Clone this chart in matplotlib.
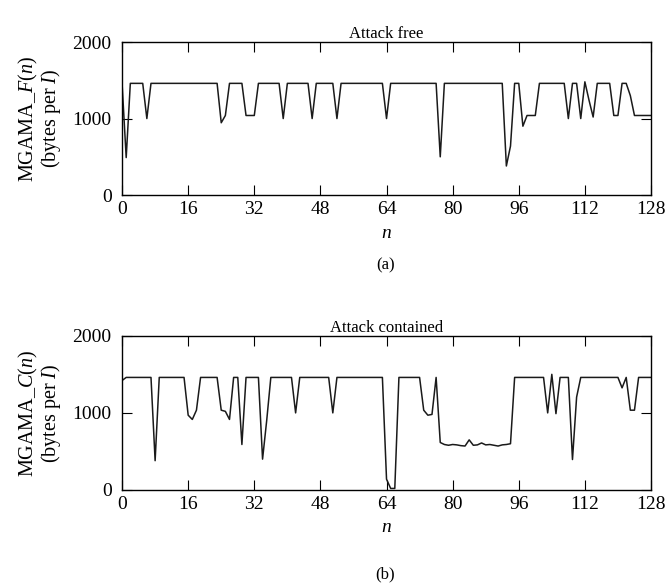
import matplotlib
matplotlib.use('Agg')
import matplotlib.pyplot as plt
import numpy as np

plt.rcParams['font.family'] = ['Liberation Serif', 'DejaVu Serif']
plt.rcParams['mathtext.fontset'] = 'custom'
plt.rcParams['mathtext.rm'] = 'Liberation Serif'
plt.rcParams['mathtext.it'] = 'Liberation Serif:italic'

# sample index n = 0 .. 128
n = np.arange(129)

# MGAMA_F(n), attack free (bytes per I)
mgama_f = [
    1460, 490, 1460, 1460, 1460, 1460, 1000, 1460, 1460, 1460, 1460, 1460, 1460, 1460, 1460, 1460,
    1460, 1460, 1460, 1460, 1460, 1460, 1460, 1460, 945, 1040, 1460, 1460, 1460, 1460, 1040, 1040,
    1040, 1460, 1460, 1460, 1460, 1460, 1460, 1000, 1460, 1460, 1460, 1460, 1460, 1460, 1000, 1460,
    1460, 1460, 1460, 1460, 1000, 1460, 1460, 1460, 1460, 1460, 1460, 1460, 1460, 1460, 1460, 1460,
    1000, 1460, 1460, 1460, 1460, 1460, 1460, 1460, 1460, 1460, 1460, 1460, 1460, 500, 1460, 1460,
    1460, 1460, 1460, 1460, 1460, 1460, 1460, 1460, 1460, 1460, 1460, 1460, 1460, 380, 640, 1460,
    1460, 900, 1040, 1040, 1040, 1460, 1460, 1460, 1460, 1460, 1460, 1460, 1000, 1460, 1460, 1000,
    1480, 1240, 1020, 1460, 1460, 1460, 1460, 1040, 1040, 1460, 1460, 1300, 1040, 1040, 1040, 1040,
    1040,
]

# MGAMA_C(n), attack contained (bytes per I)
mgama_c = [
    1420, 1460, 1460, 1460, 1460, 1460, 1460, 1460, 380, 1460, 1460, 1460, 1460, 1460, 1460, 1460,
    970, 915, 1035, 1460, 1460, 1460, 1460, 1460, 1035, 1020, 915, 1460, 1460, 590, 1460, 1460,
    1460, 1460, 400, 900, 1460, 1460, 1460, 1460, 1460, 1460, 1000, 1460, 1460, 1460, 1460, 1460,
    1460, 1460, 1460, 1000, 1460, 1460, 1460, 1460, 1460, 1460, 1460, 1460, 1460, 1460, 1460, 1460,
    140, 20, 20, 1460, 1460, 1460, 1460, 1460, 1460, 1035, 970, 980, 1460, 616, 590, 580,
    590, 585, 575, 570, 650, 580, 585, 610, 585, 590, 580, 570, 585, 590, 600, 1460,
    1460, 1460, 1460, 1460, 1460, 1460, 1460, 1000, 1500, 990, 1460, 1460, 1460, 395, 1205, 1460,
    1460, 1460, 1460, 1460, 1460, 1460, 1460, 1460, 1460, 1325, 1460, 1035, 1035, 1460, 1460, 1460,
    1460,
]

panels = [
    (mgama_f, 'Attack free', 'MGAMA_$F(n)$\n(bytes per $I$)', '(a)'),
    (mgama_c, 'Attack contained', 'MGAMA_$C(n)$\n(bytes per $I$)', '(b)'),
]

fig = plt.figure(figsize=(6.67, 5.84), dpi=100)
axes_rects = [[0.183, 0.666, 0.793, 0.262], [0.183, 0.161, 0.793, 0.264]]
caption_y = [0.546, 0.016]

for (vals, title, ylabel, cap), rect, cy in zip(panels, axes_rects, caption_y):
    ax = fig.add_axes(rect)
    ax.plot(n, vals, color='#1a1a1a', lw=1.1)
    ax.set_xlim(0, 128)
    ax.set_ylim(0, 2000)
    ax.set_xticks(np.arange(0, 129, 16))
    ax.set_yticks([0, 1000, 2000])
    ax.tick_params(direction='in', top=True, right=True, length=7, labelsize=14)
    ax.tick_params(axis='y', pad=7.5)
    ax.tick_params(axis='x', pad=4)
    ax.set_title(title, fontsize=12, pad=3)
    ax.set_xlabel('$n$', fontsize=14, labelpad=5)
    ax.set_ylabel(ylabel, fontsize=14.5, linespacing=0.95, labelpad=7)
    for s in ax.spines.values():
        s.set_linewidth(1.0)
    fig.text(0.578, cy, cap, ha='center', va='center', fontsize=12)

fig.savefig('out.png', dpi=100)
